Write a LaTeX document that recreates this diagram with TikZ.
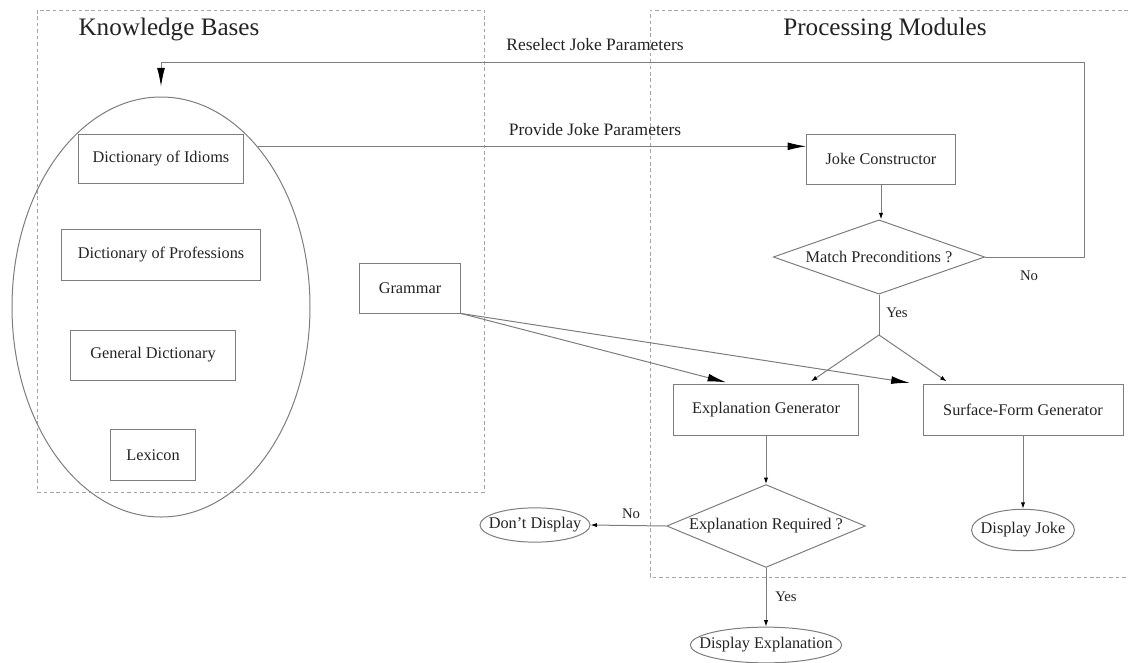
\documentclass[tikz,border=0pt]{standalone}
\usepackage{fontspec}
\setmainfont{Liberation Serif}
\usepackage{tikz}
\usetikzlibrary{arrows.meta,shapes.geometric}
\definecolor{LineGray}{RGB}{125,125,125}
\definecolor{FrameGray}{RGB}{165,165,165}
\definecolor{InkGray}{RGB}{35,35,35}

\begin{document}
\begin{tikzpicture}[x=0.7pt,y=-0.7pt,>=Latex,
  every node/.style={text=InkGray,font=\fontsize{11.4}{13}\selectfont},
  wire/.style={draw=LineGray,line width=.7pt},
  box/.style={wire,inner sep=0pt},
  test/.style={wire,diamond,aspect=2.6,inner sep=0pt},
  outcome/.style={wire,ellipse,inner xsep=-10pt,inner ysep=2pt},
  flow/.style={wire,-{Latex[length=4.5pt,width=3pt,color=black]}},
  feed/.style={wire,-{Latex[length=13pt,width=5.5pt,color=black]}},
  frame/.style={draw=FrameGray,line width=.7pt,dash pattern=on 2.5pt off 2pt},
  title/.style={font=\fontsize{17.6}{20}\selectfont},
  tag/.style={font=\fontsize{12.2}{14}\selectfont},
  yn/.style={font=\fontsize{10.3}{12}\selectfont}]
  \useasboundingbox (0,0) rectangle (1128,662);

  % the two groups
  \draw[frame] (37,10) rectangle (484,492);
  \draw[frame] (1128,10) -- (650,10) -- (650,577) -- (1128,577);
  \node[title] (kbtitle) at (169,29) {Knowledge Bases};
  \node[title] (pmtitle) at (885,29) {Processing Modules};

  % knowledge bases
  \node[wire,ellipse,inner sep=0pt,minimum width=208.6pt,minimum height=294pt] (kb) at (161,307) {};
  \node[box,minimum width=116pt,minimum height=34pt] (idioms) at (161,159) {Dictionary of Idioms};
  \node[box,minimum width=139pt,minimum height=36pt] (profs) at (161,255) {Dictionary of Professions};
  \node[box,minimum width=116pt,minimum height=35pt] (general) at (153,355) {General Dictionary};
  \node[box,minimum width=59pt,minimum height=36pt] (lexicon) at (153,455) {Lexicon};
  \node[box,minimum width=71pt,minimum height=35pt] (grammar) at (410,288) {Grammar};

  % processing modules
  \node[box,minimum width=104pt,minimum height=35pt] (constructor) at (881,159) {Joke Constructor};
  \node[test,minimum width=148pt,minimum height=52pt] (match) at (879,257) {Match Preconditions ?};
  \node[box,minimum width=130pt,minimum height=36pt] (explgen) at (766,410) {Explanation Generator};
  \node[box,minimum width=140pt,minimum height=36pt] (surfgen) at (1023,410) {Surface-Form Generator};
  \node[test,minimum width=139pt,minimum height=58pt] (explreq) at (766,526) {Explanation Required ?};
  \node[outcome,minimum width=77pt,minimum height=24pt] (nodisp) at (535,525) {Don't Display};
  \node[outcome,minimum width=106pt,minimum height=25pt] (dispexpl) at (766,645) {Display Explanation};
  \node[outcome,minimum width=72pt,minimum height=29pt] (dispjoke) at (1023,530) {Display Joke};

  % labels
  \node[tag] (reselect) at (595,45) {Reselect Joke Parameters};
  \node[tag] (provide) at (595,130) {Provide Joke Parameters};
  \node[yn] (matchno) at (1029,276) {No};
  \node[yn] (matchyes) at (897,313) {Yes};
  \node[yn] (explno) at (631,514) {No};
  \node[yn] (explyes) at (786,597) {Yes};

  \coordinate (loop) at (1084,62);
  \coordinate (split) at (879,335);

  % connectors
  \draw[feed,shorten >=7pt] (match.east) -| (loop) -| (kb.north);
  \draw[feed] (kb.59) -- (kb.59 -| constructor.west);
  \draw[flow] (constructor.south) -- (constructor.south |- match.north);
  \draw[wire] (match.south) -- (split);
  \draw[flow,shorten >=3pt] (split) -- ([xshift=29pt]explgen.north);
  \draw[flow,shorten >=3pt] (split) -- ([xshift=-51pt]surfgen.north);
  \draw[feed,shorten >=4pt] (grammar.south east) -- ([xshift=-24pt]explgen.north);
  \draw[feed,shorten >=4pt] (grammar.south east) -- ([xshift=-5pt]surfgen.north west);
  \draw[flow] (explgen.south) -- (explreq.north);
  \draw[flow] (explreq.west) -- (nodisp.east);
  \draw[flow] (explreq.south) -- (dispexpl.north);
  \draw[flow] (surfgen.south) -- (dispjoke.north);
\end{tikzpicture}
\end{document}
